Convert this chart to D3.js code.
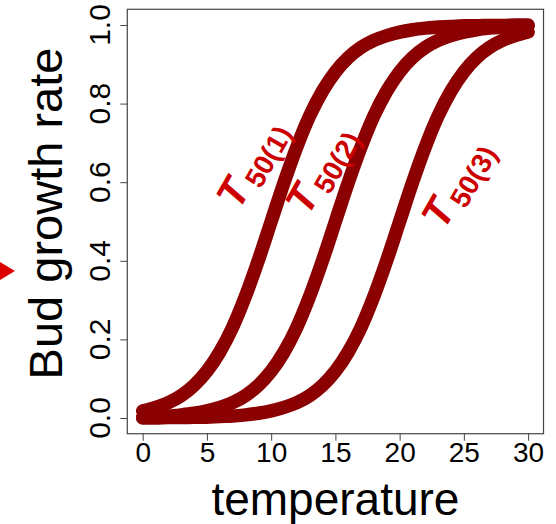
<!DOCTYPE html>
<html><head><meta charset="utf-8">
<script src="https://cdn.jsdelivr.net/npm/d3@7"></script>
<style>body{margin:0;background:#fff}svg{display:block;font-family:"Liberation Sans",Arial,sans-serif}</style>
</head><body>
<script>
const temps = d3.range(0, 31);
const series1 = [0.018,0.027,0.039,0.057,0.083,0.119,0.168,0.231,0.310,0.401,0.500,0.599,0.690,0.769,0.832,0.881,0.917,0.943,0.961,0.973,0.982,0.988,0.992,0.995,0.996,0.998,0.998,0.999,0.999,1.000,1.000];
const series2 = [0.002,0.004,0.005,0.008,0.012,0.018,0.027,0.039,0.057,0.083,0.119,0.168,0.231,0.310,0.401,0.500,0.599,0.690,0.769,0.832,0.881,0.917,0.943,0.961,0.973,0.982,0.988,0.992,0.995,0.996,0.998];
const series3 = [0.000,0.000,0.001,0.001,0.002,0.002,0.004,0.005,0.008,0.012,0.018,0.027,0.039,0.057,0.083,0.119,0.168,0.231,0.310,0.401,0.500,0.599,0.690,0.769,0.832,0.881,0.917,0.943,0.961,0.973,0.982];
const xTicks = [0,5,10,15,20,25,30];
const yTicks = [0.0,0.2,0.4,0.6,0.8,1.0];
const labels = [["50(1)",239,211],["50(2)",308,217],["50(3)",444,231]];

const W=556,H=524;
const svg=d3.select("body").append("svg").attr("width",W).attr("height",H);
const x=d3.scaleLinear().domain([0,30]).range([142.7,528.1]);
const y=d3.scaleLinear().domain([0,1]).range([418,25]);

// box
svg.append("rect").attr("x",x(-1.2)).attr("y",y(1.04))
  .attr("width",x(31.2)-x(-1.2)).attr("height",y(-0.04)-y(1.04))
  .attr("fill","none").attr("stroke","#444").attr("stroke-width",1.2);

// axes ticks
const gx=svg.append("g").attr("transform",`translate(0,${y(-0.04)})`)
  .call(d3.axisBottom(x).tickValues(xTicks).tickSize(7).tickFormat(d=>d).tickPadding(2));
gx.select(".domain").remove();
gx.selectAll("line").attr("stroke","#444");
gx.selectAll("text").attr("font-size",28).attr("font-family","Liberation Sans, Arial").attr("fill","#000").attr("dy","0.71em").attr("y",8);

const gy=svg.append("g").attr("transform",`translate(${x(-1.2)},0)`)
  .call(d3.axisLeft(y).tickValues(yTicks).tickSize(7).tickFormat(d3.format(".1f")));
gy.select(".domain").remove();
gy.selectAll("line").attr("stroke","#444");
gy.selectAll("text").remove();
svg.append("g").selectAll("text").data(yTicks).join("text")
  .attr("transform",d=>`translate(110,${y(d)}) rotate(-90)`)
  .attr("text-anchor","middle").attr("font-size",30).attr("fill","#000")
  .text(d3.format(".1f"));

// axis titles
svg.append("text").attr("x",(x(-1.2)+x(31.2))/2).attr("y",515)
  .attr("text-anchor","middle").attr("font-size",46).text("temperature");
svg.append("text").attr("transform","translate(62,213.5) rotate(-90)")
  .attr("text-anchor","middle").attr("font-size",47).text("Bud growth rate");

// curves
const line=d3.line().x((d,i)=>x(temps[i])).y(d=>y(d)).curve(d3.curveMonotoneX);
svg.append("g").selectAll("path").data([series1,series2,series3]).join("path")
  .attr("d",line).attr("fill","none").attr("stroke","#8b0000")
  .attr("stroke-width",13.5).attr("stroke-linecap","round").attr("stroke-linejoin","round");

// labels
labels.forEach(([sub,lx,ly])=>{
  const t=svg.append("text").attr("transform",`translate(${lx},${ly}) rotate(-60)`)
    .attr("fill","#cc0000").attr("font-weight","bold");
  t.append("tspan").attr("font-size",41).attr("font-style","italic").text("T");
  t.append("tspan").attr("font-size",28).attr("dx",4).attr("dy",8).text(sub);
});

// red marker at left edge
svg.append("path").attr("d",d3.line()([[0,262],[15,271],[0,280]])+"Z").attr("fill","#dd0000");
</script>
</body></html>
